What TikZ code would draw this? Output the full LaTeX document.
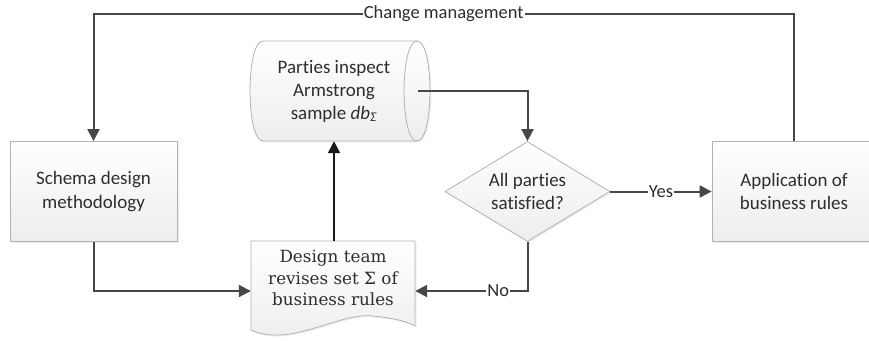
\documentclass[tikz,border=0pt]{standalone}
\usepackage{fontspec}
\setmainfont{Carlito}[Ligatures=NoCommon]
\newfontfamily\docfont{DejaVu Serif}
\usetikzlibrary{arrows.meta,shapes.geometric,shadows}
\begin{document}
\begin{tikzpicture}[x=1pt,y=-1pt,
  shp/.style={draw=gray!60, line width=0.8pt, top color=white, bottom color=gray!14,
    drop shadow={shadow xshift=1.5pt,shadow yshift=-1.5pt,fill=black!12}},
  procbox/.style={shp, rectangle, align=center, text=black!82,
    font=\fontsize{19}{23.5}\selectfont},
  decision/.style={shp, diamond, align=center, inner sep=0pt, shape aspect=1.65,
    minimum width=165pt, minimum height=100pt, text=black!82,
    font=\fontsize{19}{23.5}\selectfont},
  txt/.style={align=center, text=black!82, inner sep=0pt},
  conn/.style={draw=black!72, line width=2pt, -{Triangle[length=12pt,width=12pt]}},
  lbl/.style={fill=white, inner sep=1pt, text=black!82, font=\fontsize{18.5}{20}\selectfont}
]
\useasboundingbox (0,0) rectangle (869,340);

% shapes drawn directly
\path[shp] (263,41) -- (417,41) .. controls (434.3,41) and (434.3,141) .. (417,141)
  -- (263,141) .. controls (245.7,141) and (245.7,41) .. (263,41) -- cycle;
\draw[gray!60, line width=0.8pt] (417,41) .. controls (399.7,41) and (399.7,141) .. (417,141);

\path[shp] (251,241) -- (415,241) -- (415,326) .. controls (408,322) and (395,318) .. (372,316)
  .. controls (340,312) and (290,348) .. (251,330) -- cycle;

% nodes
\node[procbox, minimum width=167pt, minimum height=100pt] (schema) at (93.5,191.5)
  {Schema design\\methodology};
\node[procbox, minimum width=164pt, minimum height=100pt] (app) at (794,191.5)
  {Application of\\business rules};
\node[decision] (dec) at (527.5,191.5) {All parties\\satisfied?};
\node[txt, minimum width=168pt, minimum height=100pt, font=\fontsize{19}{23}\selectfont] (cyl) at (334,91)
  {Parties inspect\\Armstrong\\sample \textit{db}\textsubscript{\textit{Σ}}};
\node[txt, minimum width=164pt, minimum height=74pt, font=\docfont\fontsize{16.8}{21.5}\selectfont] (doc) at (333,278)
  {Design team\\revises set Σ of\\business rules};

% connectors
\draw[conn] (app.north) -- (app.north |- 0,14)
  -- node[lbl]{Change management} (schema.north |- 0,14) -- (schema.north);
\draw[conn] (schema.south) |- ([yshift=-13pt]doc.west);
\draw[conn, draw=black!90] (doc.north -| cyl.south) -- (cyl.south);
\draw[conn] (cyl.east) -| (dec.north);
\draw[conn] (dec.east) -- node[lbl]{Yes} (app.west);
\draw[conn] (dec.south) |- node[lbl, pos=0.63]{No} ([yshift=-13pt]doc.east);
\end{tikzpicture}
\end{document}
